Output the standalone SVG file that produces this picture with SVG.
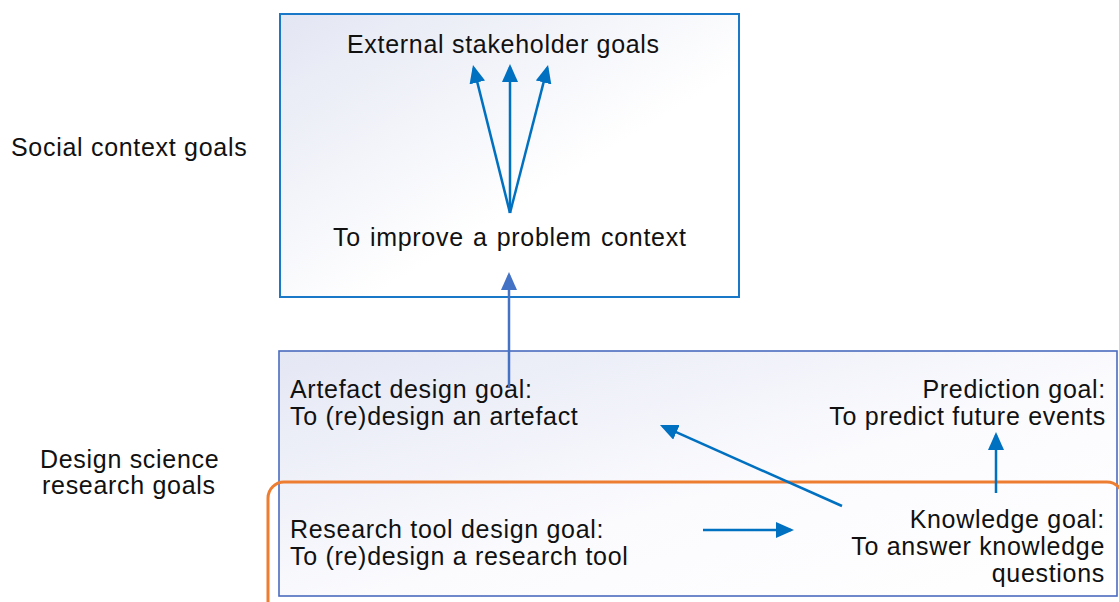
<svg xmlns="http://www.w3.org/2000/svg" width="1119" height="602" viewBox="0 0 1119 602">
<style>
  text { font-family: "Liberation Sans", Arial, sans-serif; font-size: 25px; letter-spacing: 0.7px; fill: #111; }
  .end { text-anchor: end; }
  .conn { fill: none; stroke: #0070c0; stroke-width: 2.5; marker-end: url(#ah); }
  .conn2 { fill: none; stroke: #4472c4; stroke-width: 2.5; marker-end: url(#ah2); }
</style>
<defs>
  <linearGradient id="gTop" x1="0" y1="0" x2="1" y2="1">
    <stop offset="0" stop-color="#e3e6f3"/>
    <stop offset="0.6" stop-color="#ffffff"/>
    <stop offset="1" stop-color="#ffffff"/>
  </linearGradient>
  <linearGradient id="gBot" x1="0" y1="0" x2="1" y2="1">
    <stop offset="0" stop-color="#e4e7f4"/>
    <stop offset="0.55" stop-color="#fbfbfe"/>
    <stop offset="1" stop-color="#ffffff"/>
  </linearGradient>
  <marker id="ah" markerUnits="userSpaceOnUse" markerWidth="18" markerHeight="16" refX="15" refY="8" orient="auto">
    <path d="M0,0 L18,8 L0,16 z" fill="#0070c0"/>
  </marker>
  <marker id="ah2" markerUnits="userSpaceOnUse" markerWidth="18" markerHeight="16" refX="15" refY="8" orient="auto">
    <path d="M0,0 L18,8 L0,16 z" fill="#4472c4"/>
  </marker>
</defs>
<rect width="1119" height="602" fill="#ffffff"/>

<g id="social-context-label"><text x="11" y="156">Social context goals</text></g>
<g id="dsr-label">
  <text x="40" y="468">Design science</text>
  <text x="42" y="494">research goals</text>
</g>

<g id="social-context-box">
  <rect x="280" y="14" width="459" height="283" fill="url(#gTop)" stroke="#1a78c8" stroke-width="2"/>
</g>
<g id="external-stakeholder-goals"><text x="347" y="53">External stakeholder goals</text></g>
<g id="improve-problem-context"><text x="333" y="246" style="word-spacing:1.5px">To improve a problem context</text></g>

<g id="dsr-box">
  <rect x="279" y="351" width="838" height="245" fill="url(#gBot)" stroke="#4a6bbf" stroke-width="1.6"/>
</g>
<g id="knowledge-region">
  <rect x="268" y="482" width="855" height="150" rx="16" ry="16" fill="none" stroke="#ed7d31" stroke-width="3"/>
</g>

<g id="artefact-design-goal">
  <text x="290" y="398">Artefact design goal:</text>
  <text x="290" y="425">To (re)design an artefact</text>
</g>
<g id="prediction-goal">
  <text class="end" x="1106" y="398">Prediction goal:</text>
  <text class="end" x="1106" y="425">To predict future events</text>
</g>
<g id="research-tool-design-goal">
  <text x="290" y="538">Research tool design goal:</text>
  <text x="290" y="565">To (re)design a research tool</text>
</g>
<g id="knowledge-goal">
  <text class="end" x="1105" y="528">Knowledge goal:</text>
  <text class="end" x="1105" y="555">To answer knowledge</text>
  <text class="end" x="1105" y="582">questions</text>
</g>

<g id="connectors">
  <path class="conn" d="M510,213 L473.7,67.9"/>
  <path class="conn" d="M510,213 L510,67"/>
  <path class="conn" d="M510,213 L547.3,67.9"/>
  <path class="conn2" d="M509,388 L509,275"/>
  <path class="conn" d="M842,506 L662.7,426.2"/>
  <path class="conn" d="M703,530 L791,530"/>
  <path class="conn" d="M996,493 L996,435"/>
</g>
</svg>
